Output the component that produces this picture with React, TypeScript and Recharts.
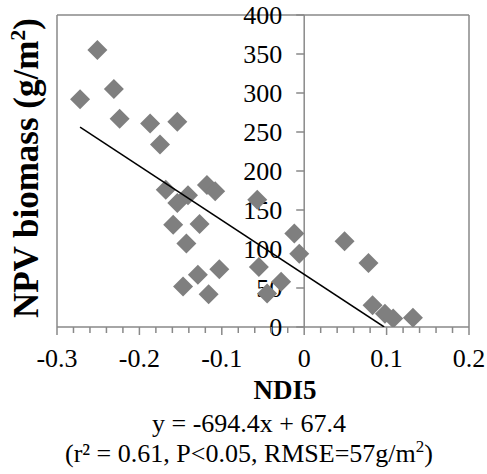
import { ScatterChart, Scatter, XAxis, YAxis, ReferenceLine, ReferenceDot } from 'recharts';

// NDI5 vs NPV biomass
const ndi5 = [
  -0.272, -0.251, -0.231, -0.224, -0.187, -0.175, -0.154, -0.168,
  -0.154, -0.141, -0.118, -0.108, -0.159, -0.127, -0.143, -0.147,
  -0.129, -0.103, -0.116, -0.057, -0.012, -0.006, -0.055, -0.028,
  -0.045, 0.049, 0.078, 0.083, 0.098, 0.108, 0.132,
];
const npv = [
  292, 355, 305, 267, 261, 234, 263, 176,
  159, 169, 182, 174, 131, 132, 107, 52,
  67, 74, 42, 163, 120, 94, 77, 58,
  43, 110, 82, 28, 17, 11, 12,
];

const yTicks = [0, 50, 100, 150, 200, 250, 300, 350, 400];
const xMajorTicks = [-0.3, -0.2, -0.1, 0, 0.1, 0.2];

// fitted line from the caption: y = -694.4x + 67.4
const slope = -694.4;
const intercept = 67.4;

const points = ndi5.map((x, i) => ({ x, y: npv[i] }));

// 4 minor ticks between the majors
const xTicks: number[] = [];
xMajorTicks.forEach((t, i) => {
  xTicks.push(t);
  if (i < xMajorTicks.length - 1) {
    const step = (xMajorTicks[i + 1] - t) / 5;
    for (let k = 1; k < 5; k++) xTicks.push(+(t + step * k).toFixed(3));
  }
});

const trendEnds = [Math.min(...ndi5), -intercept / slope];
const trend = trendEnds.map((x) => ({ x, y: slope * x + intercept }));

const AXIS = '#898989';
const serif = { fontFamily: "'Liberation Serif', 'DejaVu Serif', serif" };

function Diamond({ cx, cy }: any) {
  const s = 10;
  return (
    <polygon
      points={`${cx},${cy - s} ${cx + s},${cy} ${cx},${cy + s} ${cx - s},${cy}`}
      fill="#7f7f7f"
    />
  );
}

function XTick({ x, y, payload }: any) {
  const v = payload.value;
  const major = Math.abs(v * 10 - Math.round(v * 10)) < 1e-6;
  return (
    <g>
      <line x1={x} x2={x} y1={y} y2={y + (major ? 8 : 6)} stroke={AXIS} strokeWidth={1.5} />
      {major && (
        <text x={x} y={y + 40} textAnchor="middle" fontSize={26} style={serif} fill="#000">
          {String(Math.round(v * 10) / 10)}
        </text>
      )}
    </g>
  );
}

function YTick({ cx, cy, value }: any) {
  return (
    <g>
      <line x1={cx - 8} x2={cx} y1={cy} y2={cy} stroke={AXIS} strokeWidth={1.5} />
      <text x={cx - 22} y={cy + 9} textAnchor="end" fontSize={26} style={serif} fill="#000">
        {value}
      </text>
    </g>
  );
}

export default function App() {
  return (
    <div style={{ position: 'absolute', left: 0, top: 0, width: 487, height: 474, background: '#fff', ...serif }}>
      <ScatterChart width={487} height={474} margin={{ top: 15, right: 18, left: 57, bottom: 107 }}>
        <XAxis
          type="number"
          dataKey="x"
          domain={[-0.3, 0.2]}
          allowDataOverflow
          ticks={xTicks}
          interval={0}
          tickLine={false}
          tickSize={0}
          tickMargin={0}
          height={40}
          tick={<XTick />}
          axisLine={{ stroke: AXIS, strokeWidth: 1.5 }}
        />
        <YAxis type="number" dataKey="y" domain={[0, 400]} allowDataOverflow hide />
        <ReferenceLine x={-0.3} stroke={AXIS} strokeWidth={1.5} />
        <ReferenceLine x={0.2} stroke={AXIS} strokeWidth={1.5} />
        <ReferenceLine y={400} stroke={AXIS} strokeWidth={1.5} />
        <ReferenceLine x={0} stroke={AXIS} strokeWidth={1.5} />
        {yTicks.map((v) => (
          <ReferenceDot
            key={v}
            x={0}
            y={v}
            ifOverflow="visible"
            shape={(p: any) => <YTick {...p} value={v} />}
          />
        ))}
        <Scatter data={points} shape={<Diamond />} isAnimationActive={false} />
        <Scatter
          data={trend}
          line={{ stroke: '#000', strokeWidth: 1.5 }}
          shape={() => <g />}
          isAnimationActive={false}
        />
      </ScatterChart>
      <svg
        width={487}
        height={474}
        style={{ position: 'absolute', left: 0, top: 0, pointerEvents: 'none', ...serif }}
      >
        <text transform="translate(38,168) rotate(-90)" textAnchor="middle" fontSize={35} fontWeight="bold" style={serif}>
          NPV biomass (g/m<tspan dy={-13} fontSize={22}>2</tspan>
          <tspan dy={13}>)</tspan>
        </text>
        <text x={285} y={399} textAnchor="middle" fontSize={27} fontWeight="bold" style={serif}>
          NDI5
        </text>
        <text x={249} y={432} textAnchor="middle" fontSize={26} style={serif}>
          y = -694.4x + 67.4
        </text>
        <text x={249} y={462} textAnchor="middle" fontSize={26} style={serif}>
          (r² = 0.61, P&lt;0.05, RMSE=57g/m<tspan dy={-10} fontSize={17}>2</tspan>
          <tspan dy={10}>)</tspan>
        </text>
      </svg>
    </div>
  );
}
